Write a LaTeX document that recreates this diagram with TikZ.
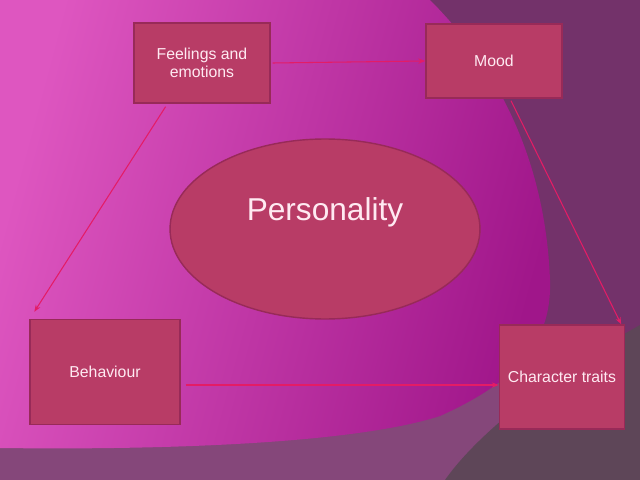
\documentclass[tikz,border=0pt]{standalone}
\usepackage{fontspec}
\setmainfont{Liberation Sans}
\usetikzlibrary{shapes.geometric,arrows.meta,calc}
\definecolor{bgpurple}{HTML}{73326A}
\definecolor{bggray}{HTML}{5E4658}
\definecolor{bgmid}{HTML}{85477A}
\definecolor{magL}{HTML}{DE56C0}
\definecolor{magM}{HTML}{C232AA}
\definecolor{magR}{HTML}{A0168A}
\definecolor{boxfill}{HTML}{B83C66}
\definecolor{boxline}{HTML}{982A58}
\definecolor{boxtext}{HTML}{FFEAF2}
\definecolor{connred}{HTML}{E41C66}
\begin{document}
\begin{tikzpicture}[x=0.02cm,y=-0.02cm,
  box/.style={draw=boxline, fill=boxfill, line width=0.8pt, text=boxtext,
    font=\fontsize{9}{10.5}\selectfont, align=center, inner sep=0pt},
  conn/.style={draw=connred, line width=0.6pt, -{Stealth[length=4pt,width=3pt]}}]
\useasboundingbox (0,0) rectangle (640,480);
% background
\fill[bgpurple] (0,0) rectangle (640,480);
\fill[bgmid] (0,420) -- (470,390) -- (505,378) -- (505,480) -- (0,480) -- cycle;
\fill[bggray] (445,480) .. controls (480,430) and (560,370) .. (640,325) -- (640,480) -- cycle;
\shade[left color=magL, middle color=magM, right color=magR, shading angle=75]
  (0,0) -- (430,0) .. controls (490,60) and (545,150) .. (550,280)
  .. controls (552,340) and (520,380) .. (440,416)
  .. controls (350,445) and (150,450) .. (0,448) -- cycle;
% nodes
\node[box, minimum width=2.72cm, minimum height=1.6cm] (feel) at (202,63) {Feelings and\\emotions};
\node[box, minimum width=2.72cm, minimum height=1.48cm] (mood) at (494,61) {Mood};
\node[box, minimum width=3.0cm, minimum height=2.1cm] (beh) at (105,372) {Behaviour};
\node[box, minimum width=2.5cm, minimum height=2.08cm] (char) at (562,377) {Character traits};
\node[ellipse, draw=boxline, fill=boxfill, line width=0.8pt, minimum width=6.2cm, minimum height=3.6cm, inner sep=0pt] (pers) at (325,229) {};
\node[text=boxtext, font=\fontsize{18}{20}\selectfont, inner sep=0pt] (perst) at (325,212) {Personality};
% connectors
\draw[conn] ($(feel.east)+(2,0)$) -- (mood.west);
\draw[conn] ($(feel.south west)!0.235!(feel.south east)+(0,3)$) -- ($(beh.north west)+(5,-7)$);
\draw[conn] ($(beh.east)+(5,13)$) -- ($(char.west)+(0,8)$);
\draw[conn] ($(mood.south)+(17,2)$) -- ($(char.north east)+(-4,0)$);
\end{tikzpicture}
\end{document}
